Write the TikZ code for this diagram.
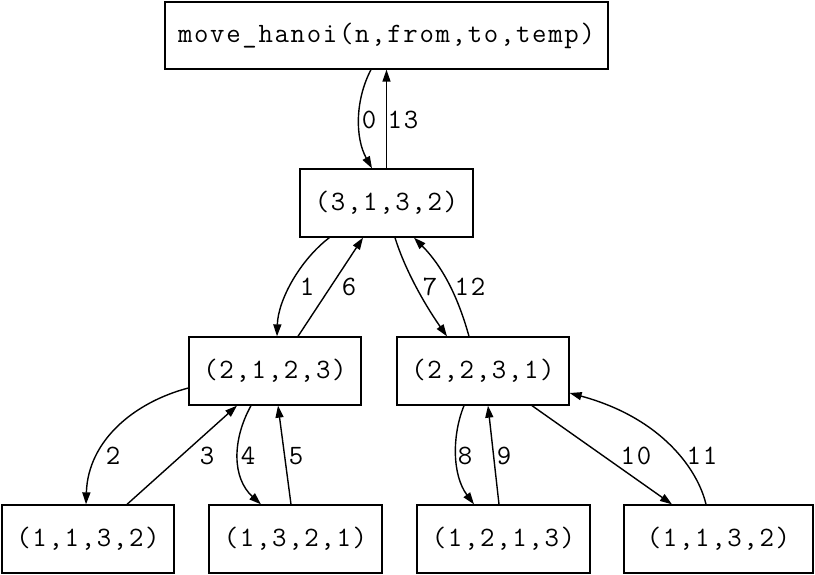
\documentclass[tikz,border=0pt]{standalone}
\usepackage{fontspec}
\setmonofont[LetterSpace=6]{Latin Modern Mono}
\usetikzlibrary{arrows.meta}
\tikzset{
  box/.style={draw, line width=1.3pt, inner sep=0pt, minimum height=68pt, minimum width=172pt, font=\ttfamily\fontsize{28}{32}\selectfont},
  lbl/.style={inner sep=0pt, font=\ttfamily\fontsize{28}{32}\selectfont},
  edge/.style={line width=1.4pt, -{Triangle[length=12pt,width=8pt]}}
}
\begin{document}
\begin{tikzpicture}[x=1pt,y=-1pt]
\useasboundingbox (0,0) rectangle (815,574);
\node[box, minimum width=443pt, minimum height=67pt] (top) at (386.5,35.5) {move\_hanoi(n,from,to,temp)};
\node[box, minimum width=173pt] (n3) at (386.5,203) {(3,1,3,2)};
\node[box] (n2a) at (275,371) {(2,1,2,3)};
\node[box] (n2b) at (483,371) {(2,2,3,1)};
\node[box] (la) at (88,539) {(1,1,3,2)};
\node[box, minimum width=173pt] (lb) at (295.5,539) {(1,3,2,1)};
\node[box, minimum width=173pt] (lc) at (503.5,539) {(1,2,1,3)};
\node[box, minimum width=189pt] (ld) at (718.5,539) {(1,1,3,2)};

% edges
\draw[edge] ([xshift=-15.5pt]top.south) .. controls (355,100) and (355,138) .. ([xshift=-14.5pt]n3.north);
\draw[edge] (n3.north) -- (top.south);
\draw[edge] ([xshift=30pt]n3.south west) .. controls (300,260) and (278,300) .. ([xshift=2pt]n2a.north);
\draw[edge] ([xshift=23pt]n2a.north) -- ([xshift=-23.5pt]n3.south);
\draw[edge] ([xshift=8.5pt]n3.south) .. controls (405,270) and (425,305) .. ([xshift=-36pt]n2b.north);
\draw[edge] ([xshift=-14pt]n2b.north) .. controls (460,304) and (446,270) .. ([xshift=27.5pt]n3.south);
\draw[edge] ([yshift=-17pt]n2a.west) .. controls (135,402) and (88,440) .. ([xshift=-2pt]la.north);
\draw[edge] ([xshift=39pt]la.north) -- ([xshift=-38pt]n2a.south);
\draw[edge] ([xshift=-24pt]n2a.south) .. controls (232,440) and (232,478) .. ([xshift=-34.5pt]lb.north);
\draw[edge] ([xshift=-4.5pt]lb.north) -- ([xshift=3pt]n2a.south);
\draw[edge] ([xshift=-19pt]n2b.south) .. controls (452,435) and (452,475) .. ([xshift=-29.5pt]lc.north);
\draw[edge] ([xshift=-4.5pt]lc.north) -- ([xshift=5pt]n2b.south);
\draw[edge] ([xshift=49pt]n2b.south) -- ([xshift=-46.5pt]ld.north);
\draw[edge] ([xshift=-12.5pt]ld.north) .. controls (698,470) and (662,418) .. ([yshift=-22pt]n2b.east);

% labels
\node[lbl] (l0) at (369,120) {0};
\node[lbl] (l13) at (403,120) {13};
\node[lbl] (l1) at (307,287) {1};
\node[lbl] (l6) at (349,287) {6};
\node[lbl] (l7) at (430,287) {7};
\node[lbl] (l12) at (470,287) {12};
\node[lbl] (l2) at (113,456) {2};
\node[lbl] (l3) at (207,456) {3};
\node[lbl] (l4) at (248,456) {4};
\node[lbl] (l5) at (296,456) {5};
\node[lbl] (l8) at (465,456) {8};
\node[lbl] (l9) at (504,456) {9};
\node[lbl] (l10) at (636,456) {10};
\node[lbl] (l11) at (702,456) {11};
\end{tikzpicture}
\end{document}
